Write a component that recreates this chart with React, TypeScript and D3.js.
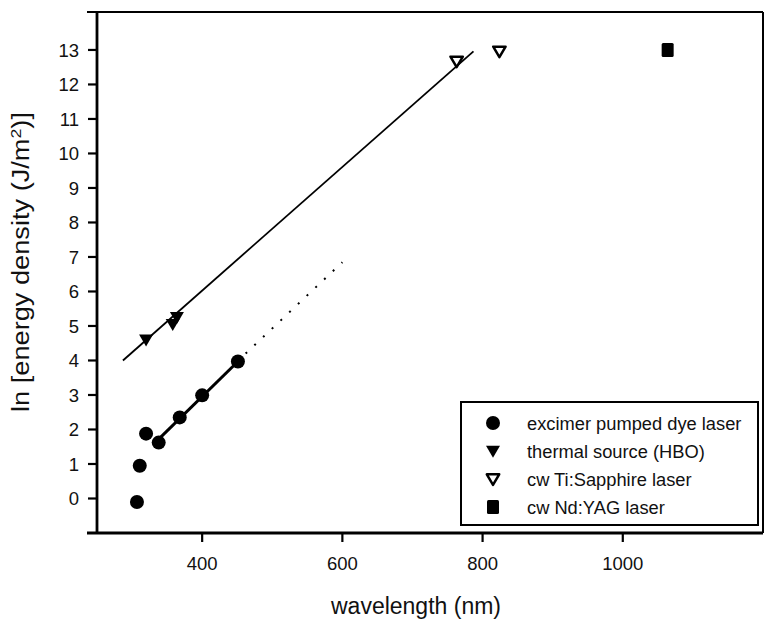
import React from "react";
import * as d3 from "d3";

const excimerX = [307, 311, 320, 338, 368, 400, 451];
const excimerY = [-0.1, 0.95, 1.88, 1.62, 2.35, 2.99, 3.97];
const thermalX = [320, 358, 364];
const thermalY = [4.6, 5.05, 5.25];
const tiSapphX = [763, 824];
const tiSapphY = [12.67, 12.96];
const ndYagX = [1064];
const ndYagY = [13.0];
// fit lines
const excimerFitX = [338, 451];
const excimerFitY = [1.72, 3.97];
const excimerExtX = [462, 600];
const excimerExtY = [4.2, 6.85];
const thermalFitX = [287, 787];
const thermalFitY = [4.0, 12.96];

const xTicks = [400, 600, 800, 1000];
const yTicks = [0, 1, 2, 3, 4, 5, 6, 7, 8, 9, 10, 11, 12, 13];
const legendLabels = [
  "excimer pumped dye laser",
  "thermal source (HBO)",
  "cw Ti:Sapphire laser",
  "cw Nd:YAG laser",
];

const W = 767;
const H = 624;
const L = 97, R = 763, T = 12, B = 533;
const FONT = "'Liberation Sans', Arial, Helvetica, sans-serif";

export default function App() {
  const x = d3.scaleLinear().domain([250, 1200]).range([L, R]);
  const y = d3.scaleLinear().domain([-1, 14.1]).range([B, T]);
  const line = d3.line<[number, number]>().x((d) => x(d[0])).y((d) => y(d[1]));
  const pts = (xs: number[], ys: number[]) => xs.map((v, i) => [v, ys[i]] as [number, number]);

  const tri = (cx: number, cy: number, s: number) =>
    `M${cx - s},${cy - s * 0.75} L${cx + s},${cy - s * 0.75} L${cx},${cy + s * 0.95} Z`;

  const marker = (kind: number, cx: number, cy: number, key: string) => {
    if (kind === 0) return <circle key={key} cx={cx} cy={cy} r={7} fill="#000" />;
    if (kind === 1) return <path key={key} d={tri(cx, cy, 7)} fill="#000" />;
    if (kind === 2)
      return <path key={key} d={tri(cx, cy, 6.2)} fill="#fff" stroke="#000" strokeWidth={2.5} strokeLinejoin="round" />;
    return <rect key={key} x={cx - 6} y={cy - 7} width={12} height={14} rx={1.5} fill="#000" />;
  };

  return (
    <svg width={W} height={H} style={{ position: "absolute", left: 0, top: 0, background: "#fff" }}>
      {/* frame */}
      <line x1={L - 10} y1={T} x2={R} y2={T} stroke="#000" strokeWidth={2} />
      <line x1={R} y1={T} x2={R} y2={B} stroke="#000" strokeWidth={2} />
      <line x1={L} y1={T} x2={L} y2={B} stroke="#000" strokeWidth={2.8} />
      <line x1={L - 10} y1={B} x2={R} y2={B} stroke="#000" strokeWidth={2.8} />

      {/* y ticks */}
      {yTicks.map((t) => (
        <g key={"y" + t}>
          <line x1={L - 9} x2={L} y1={y(t)} y2={y(t)} stroke="#000" strokeWidth={2.2} />
          <text x={L - 18} y={y(t)} dy="0.36em" textAnchor="end" fontFamily={FONT} fontSize={18.5} fill="#111">
            {t}
          </text>
        </g>
      ))}
      {/* x ticks */}
      {xTicks.map((t) => (
        <g key={"x" + t}>
          <line x1={x(t)} x2={x(t)} y1={B} y2={B + 9} stroke="#000" strokeWidth={2.2} />
          <text x={x(t)} y={570} textAnchor="middle" fontFamily={FONT} fontSize={18.5} fill="#111">
            {t}
          </text>
        </g>
      ))}

      {/* axis titles */}
      <text x={416} y={614} textAnchor="middle" fontFamily={FONT} fontSize={23} fill="#111">
        wavelength (nm)
      </text>
      <text
        transform={`translate(29,262) rotate(-90)`}
        textAnchor="middle"
        fontFamily={FONT}
        fontSize={23}
        fill="#111"
        textLength={300}
        lengthAdjust="spacingAndGlyphs"
      >
        ln [energy density (J/m<tspan dy="-8" fontSize={15}>2</tspan>
        <tspan dy="8">)]</tspan>
      </text>

      {/* fit lines */}
      <path d={line(pts(thermalFitX, thermalFitY)) || ""} fill="none" stroke="#000" strokeWidth={1.8} />
      <path d={line(pts(excimerFitX, excimerFitY)) || ""} fill="none" stroke="#000" strokeWidth={3} />
      <path
        d={line(pts(excimerExtX, excimerExtY)) || ""}
        fill="none"
        stroke="#000"
        strokeWidth={2}
        strokeDasharray="2 10"
      />

      {/* points */}
      {excimerX.map((v, i) => marker(0, x(v), y(excimerY[i]), "e" + i))}
      {thermalX.map((v, i) => marker(1, x(v), y(thermalY[i]), "t" + i))}
      {tiSapphX.map((v, i) => marker(2, x(v), y(tiSapphY[i]), "s" + i))}
      {ndYagX.map((v, i) => marker(3, x(v), y(ndYagY[i]), "n" + i))}

      {/* legend */}
      <rect x={461} y={402} width={297} height={123} fill="#fff" stroke="#000" strokeWidth={2} />
      {legendLabels.map((lab, i) => {
        const cy = 423 + i * 28;
        return (
          <g key={"l" + i}>
            {marker(i, 493, cy, "lm" + i)}
            <text x={527} y={cy} dy="0.36em" fontFamily={FONT} fontSize={18.3} fill="#111">
              {lab}
            </text>
          </g>
        );
      })}
    </svg>
  );
}
